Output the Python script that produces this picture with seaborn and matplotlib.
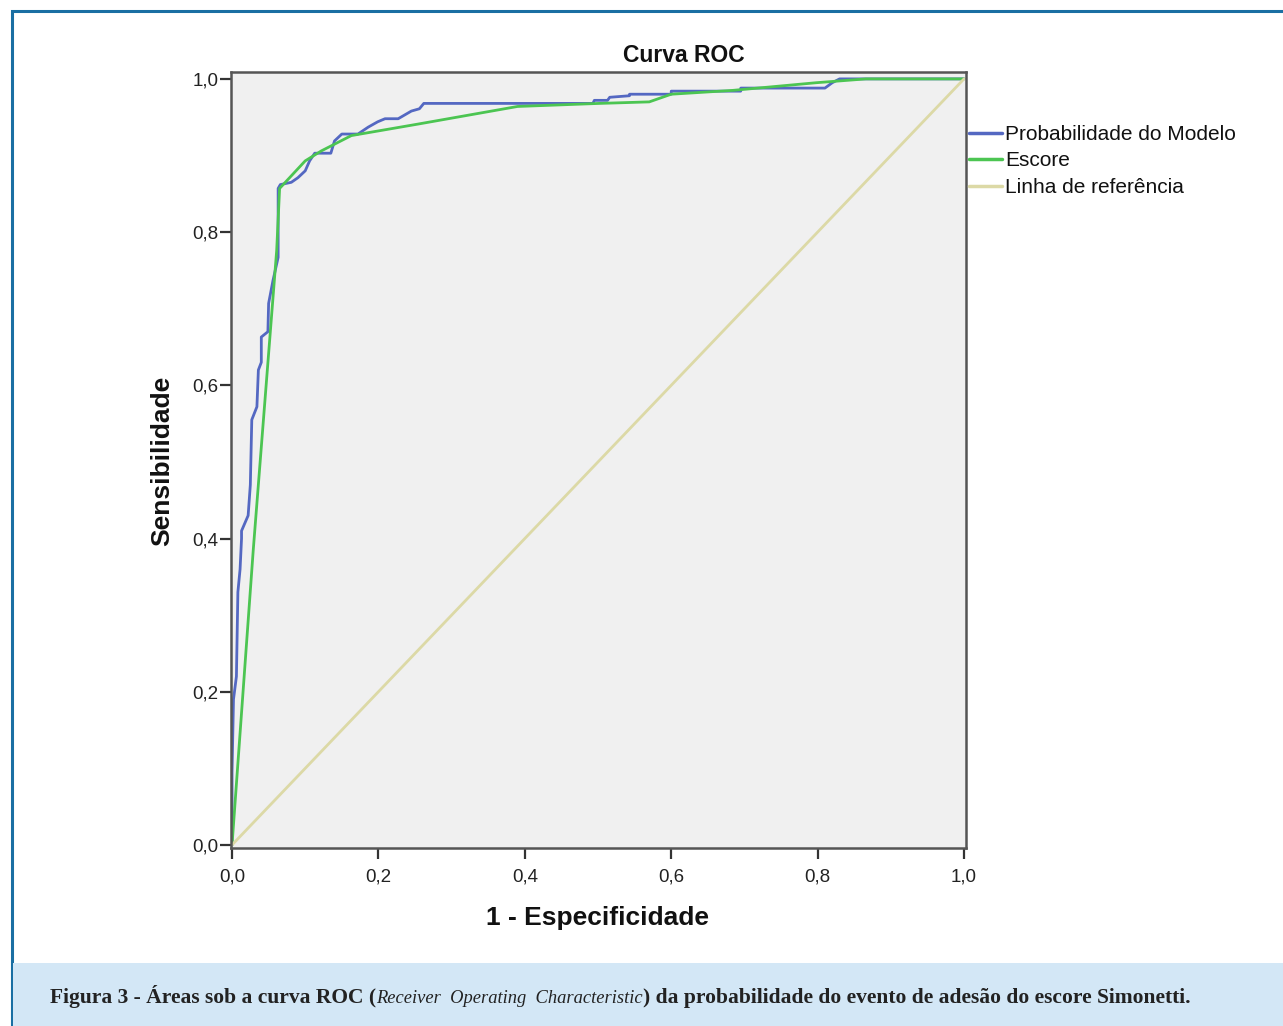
import numpy as np
import pandas as pd
import matplotlib
import matplotlib.pyplot as plt
import seaborn as sns
from matplotlib import font_manager
from matplotlib.patches import Rectangle

''' Data read from the chart '''
# Probabilidade do Modelo (stepped ROC curve)
model_fpr = [0, 0, 0.002, 0.006, 0.008, 0.011, 0.013, 0.013, 0.022, 0.025, 0.027, 0.034,
             0.036, 0.040, 0.040, 0.049, 0.050, 0.056, 0.063, 0.063, 0.066, 0.081, 0.090,
             0.100, 0.106, 0.113, 0.135, 0.140, 0.150, 0.172, 0.186, 0.199, 0.209, 0.227,
             0.236, 0.245, 0.256, 0.262, 0.493, 0.495, 0.513, 0.516, 0.543, 0.543, 0.600,
             0.600, 0.695, 0.695, 0.810, 0.820, 0.830, 1.0]
model_tpr = [0, 0.095, 0.19, 0.22, 0.33, 0.36, 0.40, 0.41, 0.43, 0.47, 0.555, 0.572,
             0.62, 0.63, 0.663, 0.67, 0.707, 0.737, 0.767, 0.857, 0.862, 0.865, 0.871,
             0.880, 0.893, 0.903, 0.903, 0.919, 0.928, 0.928, 0.937, 0.944, 0.948, 0.948,
             0.953, 0.958, 0.961, 0.968, 0.968, 0.972, 0.972, 0.976, 0.978, 0.980, 0.980,
             0.984, 0.984, 0.988, 0.988, 0.995, 1.0, 1.0]

# Escore
score_fpr = [0, 0.029, 0.061, 0.065, 0.100, 0.122, 0.163, 0.254, 0.390, 0.502, 0.570,
             0.600, 0.684, 0.798, 0.866, 1.0]
score_tpr = [0, 0.385, 0.776, 0.857, 0.893, 0.906, 0.926, 0.941, 0.964, 0.968, 0.970,
             0.980, 0.985, 0.995, 1.0, 1.0]

# Linha de referência
ref_fpr = [0, 1]
ref_tpr = [0, 1]

series_names = ["Probabilidade do Modelo", "Escore", "Linha de referência"]
series_colors = ["#5468c2", "#4cc552", "#dcd9a6"]
tick_values = [0.0, 0.2, 0.4, 0.6, 0.8, 1.0]
tick_labels = ["0,0", "0,2", "0,4", "0,6", "0,8", "1,0"]
caption_parts = ["Figura 3 - Áreas sob a curva ROC (",
                 "Receiver  Operating  Characteristic",
                 ") da probabilidade do evento de adesão do escore Simonetti."]

df = pd.concat([
    pd.DataFrame({"fpr": model_fpr, "tpr": model_tpr, "curve": series_names[0]}),
    pd.DataFrame({"fpr": score_fpr, "tpr": score_tpr, "curve": series_names[1]}),
    pd.DataFrame({"fpr": ref_fpr, "tpr": ref_tpr, "curve": series_names[2]}),
], ignore_index=True)

''' Style '''
sns.set_theme(style="white")
available = {f.name for f in font_manager.fontManager.ttflist}
plain = "Liberation Sans" if "Liberation Sans" in available else "DejaVu Sans"
serif = "Liberation Serif" if "Liberation Serif" in available else "DejaVu Serif"
plt.rcParams["font.family"] = [plain, "DejaVu Sans"]

W, H = 1283, 1026
fig = plt.figure(figsize=(W / 100, H / 100), dpi=100)
fig.patch.set_facecolor("white")

# outer blue frame and caption band
fig.patches.append(Rectangle((12 / W, -0.05), 1.05, 1 - 11 / H + 0.05,
                             transform=fig.transFigure, facecolor="none",
                             edgecolor="#1a6fa3", linewidth=2.2, zorder=0))
fig.patches.append(Rectangle((13 / W, 0), 1.0, (H - 963) / H,
                             transform=fig.transFigure, facecolor="#d3e7f6",
                             edgecolor="none", zorder=0))

ax = fig.add_axes([231 / W, 1 - 848 / H, (966 - 231) / W, (848 - 72) / H])
ax.set_facecolor("#f0f0f0")

sns.lineplot(data=df, x="fpr", y="tpr", hue="curve", hue_order=series_names,
             palette=series_colors, sort=False, estimator=None, linewidth=2,
             ax=ax)

ax.set_xlim(-0.0014, 1.0027)
ax.set_ylim(-0.004, 1.009)
ax.set_xticks(tick_values)
ax.set_xticklabels(tick_labels)
ax.set_yticks(tick_values)
ax.set_yticklabels(tick_labels)
ax.tick_params(axis="both", direction="out", length=8, width=1.6, color="#333333",
               labelsize=13.5, labelcolor="#222222")
ax.tick_params(axis="x", pad=7)
ax.tick_params(axis="y", pad=1)
ax.tick_params(axis="both", bottom=True, left=True)
for s in ax.spines.values():
    s.set_color("#555555")
    s.set_linewidth(1.8)

fig.text(684 / W, 1 - 55 / H, "Curva ROC", fontsize=16.5, fontweight="bold",
         ha="center", va="center", color="#111111")
ax.set_xlabel("")
ax.set_ylabel("")
fig.text(598 / W, 1 - 918 / H, "1 - Especificidade", fontsize=19, fontweight="bold",
         ha="center", va="center", color="#111111")
fig.text(162 / W, 1 - 461 / H, "Sensibilidade", fontsize=19, fontweight="bold",
         ha="center", va="center", rotation=90, color="#111111")

leg = ax.legend(loc="upper left", bbox_to_anchor=(969 / W, 1 - 125 / H),
                bbox_transform=fig.transFigure, frameon=False, fontsize=15,
                handlelength=1.6, handletextpad=0.15, labelspacing=0.36,
                borderaxespad=0, borderpad=0)
for line in leg.get_lines():
    line.set_linewidth(2.5)
for txt in leg.get_texts():
    txt.set_color("#111111")

# caption with an italic middle part, placed piece by piece
renderer = fig.canvas.get_renderer()
base_y = 1 - 1003 / H
x = 50
styles = [dict(fontweight="bold", fontsize=15.5),
          dict(fontstyle="italic", fontsize=13.3),
          dict(fontweight="bold", fontsize=15.5)]
for part, st in zip(caption_parts, styles):
    t = fig.text(x / W, base_y, part, family=serif, va="baseline", ha="left",
                 color="#222222", **st)
    x += t.get_window_extent(renderer).width

plt.savefig("out.png", dpi=100)
